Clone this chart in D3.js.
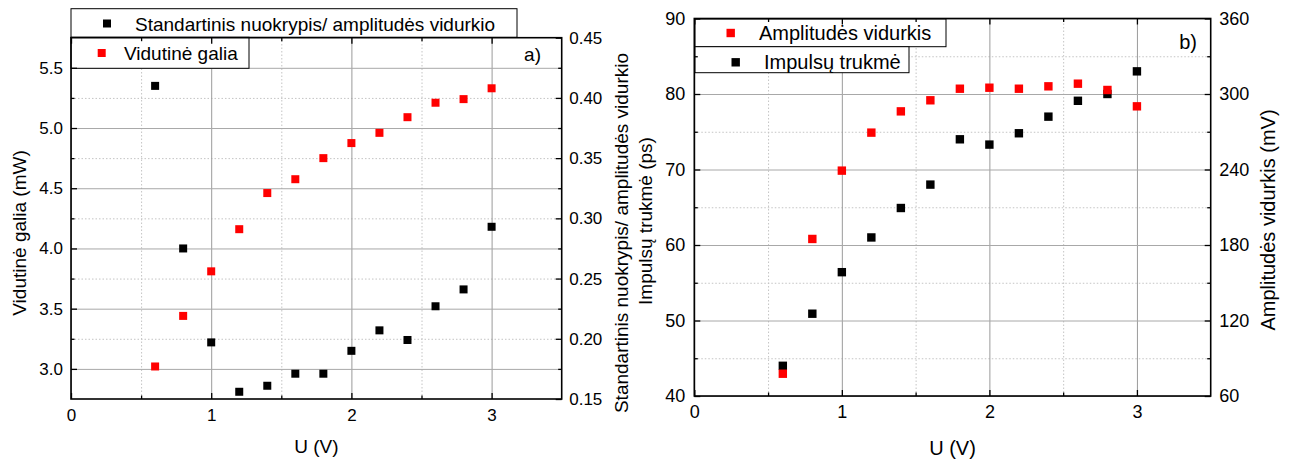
<!DOCTYPE html>
<html><head><meta charset="utf-8">
<script src="https://cdn.jsdelivr.net/npm/d3@7"></script>
<style>
body{margin:0;background:#fff}
svg{display:block}
text{font-family:"Liberation Sans",Arial,Helvetica,sans-serif;fill:#000}
</style>
</head><body>
<svg id="c" width="1292" height="460"></svg>
<script>
// ---------- data ----------
const voltage = [0.6, 0.8, 1.0, 1.2, 1.4, 1.6, 1.8, 2.0, 2.2, 2.4, 2.6, 2.8, 3.0];
// panel a)
const stdOverAmplitude = [0.410, 0.275, 0.197, 0.156, 0.161, 0.171, 0.171, 0.190, 0.207, 0.199, 0.227, 0.241, 0.293];
const averagePower = [3.02, 3.44, 3.81, 4.16, 4.46, 4.575, 4.75, 4.875, 4.96, 5.09, 5.21, 5.24, 5.33];
// panel b)
const pulseDuration = [44.0, 50.9, 56.4, 61.0, 64.9, 68.0, 74.0, 73.3, 74.8, 77.0, 79.1, 80.0, 83.0];
const amplitudeMean = [77.7, 184.8, 239.1, 269.3, 286.2, 295.0, 304.2, 305.0, 304.2, 306.1, 308.2, 303.2, 290.2];
// ticks
const xTicks = [0, 1, 2, 3];
const xMinorTicks = [0.5, 1.5, 2.5];
const powerTicks = [3.0, 3.5, 4.0, 4.5, 5.0, 5.5];
const powerMinorTicks = [3.25, 3.75, 4.25, 4.75, 5.25];
const ratioTicks = [0.15, 0.20, 0.25, 0.30, 0.35, 0.40, 0.45];
const ratioMinorTicks = [0.175, 0.225, 0.275, 0.325, 0.375, 0.425];
const durationTicks = [40, 50, 60, 70, 80, 90];
const durationMinorTicks = [45, 55, 65, 75, 85];
const amplitudeTicks = [60, 120, 180, 240, 300, 360];
const amplitudeMinorTicks = [90, 150, 210, 270, 330];
// text
const xTitle = "U (V)";
const powerTitle = "Vidutinė galia (mW)";
const ratioTitle = "Standartinis nuokrypis/ amplitudės vidurkio";
const durationTitle = "Impulsų trukmė (ps)";
const amplitudeTitle = "Amplitudės vidurkis (mV)";

const svg = d3.select("#c");

function drawPanel(c) {
  const g = svg.append("g");
  const x = d3.scaleLinear().domain([0, 3.5]).range([c.x0, c.x1]);
  const yL = d3.scaleLinear().domain(c.yLDomain).range([c.y1, c.y0]);
  const yR = d3.scaleLinear().domain(c.yRDomain).range([c.y1, c.y0]);
  const w = c.x1 - c.x0, h = c.y1 - c.y0;
  const clean = s => s.call(a => a.select(".domain").remove());

  // minor grid (dotted)
  g.append("g").attr("transform", `translate(0,${c.y1})`)
    .call(d3.axisBottom(x).tickValues(xMinorTicks).tickSize(-h).tickFormat(""))
    .call(clean).selectAll("line").attr("stroke", "#c4c4c4").attr("stroke-dasharray", "1.5,2");
  g.append("g").attr("transform", `translate(${c.x0},0)`)
    .call(d3.axisLeft(yL).tickValues(c.yLMinor).tickSize(-w).tickFormat(""))
    .call(clean).selectAll("line").attr("stroke", "#c4c4c4").attr("stroke-dasharray", "1.5,2");
  // major grid
  g.append("g").attr("transform", `translate(0,${c.y1})`)
    .call(d3.axisBottom(x).tickValues(xTicks).tickSize(-h).tickFormat(""))
    .call(clean).selectAll("line").attr("stroke", "#9a9a9a");
  g.append("g").attr("transform", `translate(${c.x0},0)`)
    .call(d3.axisLeft(yL).tickValues(c.yLTicks).tickSize(-w).tickFormat(""))
    .call(clean).selectAll("line").attr("stroke", "#a8a8a8");

  // series
  const ms = c.marker;
  c.series.forEach(s => {
    const ys = s.axis === "L" ? yL : yR;
    g.append("g").selectAll("rect").data(s.values).join("rect")
      .attr("x", (d, i) => x(voltage[i]) - ms / 2)
      .attr("y", d => ys(d) - ms / 2)
      .attr("width", ms).attr("height", ms)
      .attr("fill", s.color);
  });

  // legend
  c.legend.forEach(L => {
    g.append("rect").attr("x", L.bx).attr("y", L.by).attr("width", L.bw).attr("height", L.bh)
      .attr("fill", "#fff").attr("stroke", "#000").attr("stroke-width", 1);
    g.append("rect").attr("x", L.mx - ms / 2).attr("y", L.my - ms / 2).attr("width", ms).attr("height", ms)
      .attr("fill", L.color);
    g.append("text").attr("x", L.tx).attr("y", L.ty).attr("font-size", c.legendFont).text(L.label);
  });

  // axes with inward ticks
  const tf = c.tickFont;
  const bottom = g.append("g").attr("transform", `translate(0,${c.y1})`)
    .call(d3.axisBottom(x).tickValues(xTicks).tickSizeInner(-6).tickSizeOuter(0).tickPadding(c.xPad).tickFormat(d3.format("d")))
    .call(clean);
  bottom.selectAll("text").attr("font-size", tf).attr("font-family", null);
  g.append("g").attr("transform", `translate(0,${c.y1})`)
    .call(d3.axisBottom(x).tickValues(xMinorTicks).tickSize(-3.5).tickFormat("")).call(clean);
  g.append("g").attr("transform", `translate(0,${c.y0})`)
    .call(d3.axisTop(x).tickValues(xTicks).tickSize(-6).tickFormat("")).call(clean);
  g.append("g").attr("transform", `translate(0,${c.y0})`)
    .call(d3.axisTop(x).tickValues(xMinorTicks).tickSize(-3.5).tickFormat("")).call(clean);

  const left = g.append("g").attr("transform", `translate(${c.x0},0)`)
    .call(d3.axisLeft(yL).tickValues(c.yLTicks).tickSizeInner(-6).tickSizeOuter(0).tickPadding(c.yPad).tickFormat(c.yLFormat))
    .call(clean);
  left.selectAll("text").attr("font-size", tf).attr("font-family", null);
  g.append("g").attr("transform", `translate(${c.x0},0)`)
    .call(d3.axisLeft(yL).tickValues(c.yLMinor).tickSize(-3.5).tickFormat("")).call(clean);

  const right = g.append("g").attr("transform", `translate(${c.x1},0)`)
    .call(d3.axisRight(yR).tickValues(c.yRTicks).tickSizeInner(-6).tickSizeOuter(0).tickPadding(c.yPad - 0.5).tickFormat(c.yRFormat))
    .call(clean);
  right.selectAll("text").attr("font-size", tf).attr("font-family", null);
  g.append("g").attr("transform", `translate(${c.x1},0)`)
    .call(d3.axisRight(yR).tickValues(c.yRMinor).tickSize(-3.5).tickFormat("")).call(clean);

  g.selectAll(".tick line").filter(function(){ return !this.getAttribute("stroke-dasharray") && this.getAttribute("stroke") === "currentColor"; })
    .attr("stroke", "#000").attr("stroke-width", 1.3);

  // frame
  g.append("rect").attr("x", c.x0).attr("y", c.y0).attr("width", w).attr("height", h)
    .attr("fill", "none").attr("stroke", "#000").attr("stroke-width", 1.6);

  // titles
  g.append("text").attr("x", (c.x0 + c.x1) / 2).attr("y", c.xTitleY).attr("text-anchor", "middle")
    .attr("font-size", c.titleFont).text(xTitle);
  c.yTitles.forEach(t => {
    g.append("text").attr("transform", `translate(${t.x},${t.y}) rotate(-90)`)
      .attr("text-anchor", "middle").attr("dominant-baseline", "central")
      .attr("font-size", c.titleFont).text(t.label);
  });
  g.append("text").attr("x", c.tagX).attr("y", c.tagY).attr("text-anchor", "end")
    .attr("font-size", c.titleFont).text(c.tag);
}

drawPanel({
  x0: 71, x1: 561.7, y0: 37.7, y1: 399,
  yLDomain: [2.75, 5.75], yRDomain: [0.15, 0.45],
  yLTicks: powerTicks, yLMinor: powerMinorTicks, yLFormat: d3.format(".1f"),
  yRTicks: ratioTicks, yRMinor: ratioMinorTicks, yRFormat: d3.format(".2f"),
  tickFont: 17, titleFont: 19, legendFont: 19, marker: 8, xPad: 10, yPad: 8,
  series: [
    { values: stdOverAmplitude, axis: "R", color: "#000" },
    { values: averagePower, axis: "L", color: "#ff0000" }
  ],
  legend: [
    { bx: 71, by: 8.7, bw: 446, bh: 28.6, mx: 107, my: 23.5, tx: 135, ty: 30.5, color: "#000", label: ratioTitle },
    { bx: 71, by: 37.3, bw: 178, bh: 31, mx: 101.7, my: 53, tx: 124, ty: 60, color: "#ff0000", label: "Vidutinė galia" }
  ],
  xTitleY: 453,
  yTitles: [
    { x: 19, y: 233, label: powerTitle },
    { x: 621, y: 233, label: ratioTitle },
    { x: 645, y: 221, label: durationTitle }
  ],
  tag: "a)", tagX: 541, tagY: 61
});

drawPanel({
  x0: 694.3, x1: 1210.7, y0: 18.5, y1: 396,
  yLDomain: [40, 90], yRDomain: [60, 360],
  yLTicks: durationTicks, yLMinor: durationMinorTicks, yLFormat: d3.format("d"),
  yRTicks: amplitudeTicks, yRMinor: amplitudeMinorTicks, yRFormat: d3.format("d"),
  tickFont: 18, titleFont: 20, legendFont: 20, marker: 8.4, xPad: 9, yPad: 9,
  series: [
    { values: pulseDuration, axis: "L", color: "#000" },
    { values: amplitudeMean, axis: "R", color: "#ff0000" }
  ],
  legend: [
    { bx: 695, by: 19, bw: 251, bh: 27.7, mx: 730.7, my: 33, tx: 759, ty: 39.5, color: "#ff0000", label: "Amplitudės vidurkis" },
    { bx: 695, by: 46.7, bw: 214, bh: 26, mx: 735.7, my: 62.3, tx: 764, ty: 69, color: "#000", label: "Impulsų trukmė" }
  ],
  xTitleY: 455,
  yTitles: [
    { x: 1268, y: 220, label: amplitudeTitle }
  ],
  tag: "b)", tagX: 1197, tagY: 49
});
</script>
</body></html>
